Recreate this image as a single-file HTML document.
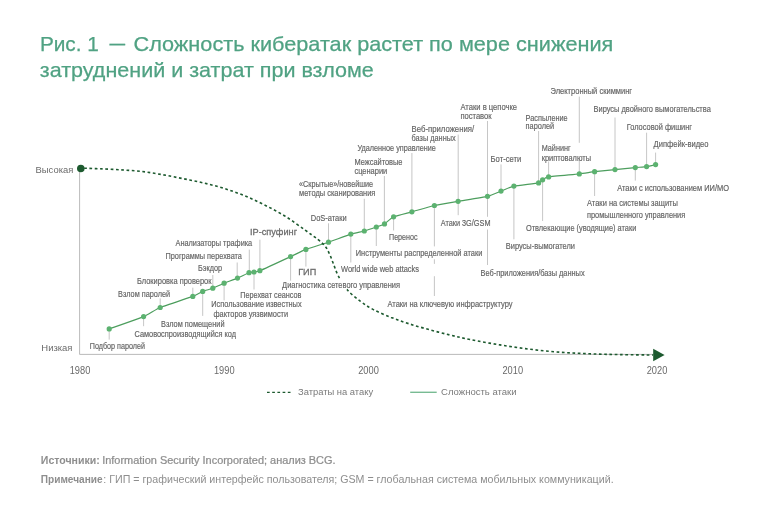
<!DOCTYPE html>
<html lang="ru"><head><meta charset="utf-8"><title>Рис. 1</title>
<style>
html,body{margin:0;padding:0;background:#fff;}
body{width:768px;height:514px;overflow:hidden;}
svg{display:block;}
text{font-family:"Liberation Sans","DejaVu Sans",sans-serif;}
.t{fill:#50a283;font-size:21px;stroke:#50a283;stroke-width:0.25px;}
.l{fill:#626262;font-size:9.6px;stroke:#666;stroke-width:0.18px;}
.a{fill:#6a6a6a;font-size:9.9px;}
.g{fill:#7a7a7a;font-size:9.4px;}
.n{fill:#8e8e8e;font-size:10px;}
.m{fill:#6c6c6c;font-size:9.9px;stroke:#6c6c6c;stroke-width:0.3px;}
</style></head><body>
<svg width="768" height="514" viewBox="0 0 768 514">

<text class="t" x="39.9" y="51.2" textLength="59" lengthAdjust="spacingAndGlyphs">Рис. 1</text>
<text class="t" x="109.5" y="50.2" textLength="15.6" lengthAdjust="spacingAndGlyphs">—</text>
<text class="t" x="133.5" y="51.2" textLength="479.8" lengthAdjust="spacingAndGlyphs">Сложность кибератак растет по мере снижения</text>
<text class="t" x="39.8" y="77" textLength="334" lengthAdjust="spacingAndGlyphs">затруднений и затрат при взломе</text>
<path d="M79.6 168.5V354.4H654" fill="none" stroke="#a8a8a8" stroke-width="0.8"/>
<text class="a" x="35.6" y="172.6" textLength="37.7" lengthAdjust="spacingAndGlyphs">Высокая</text>
<text class="a" x="41.3" y="351.3" textLength="31.2" lengthAdjust="spacingAndGlyphs">Низкая</text>
<text class="a" x="69.7" y="373.6" style="font-size:10.1px" textLength="20.6" lengthAdjust="spacingAndGlyphs">1980</text>
<text class="a" x="213.95" y="373.6" style="font-size:10.1px" textLength="20.6" lengthAdjust="spacingAndGlyphs">1990</text>
<text class="a" x="358.2" y="373.6" style="font-size:10.1px" textLength="20.6" lengthAdjust="spacingAndGlyphs">2000</text>
<text class="a" x="502.45" y="373.6" style="font-size:10.1px" textLength="20.6" lengthAdjust="spacingAndGlyphs">2010</text>
<text class="a" x="646.7" y="373.6" style="font-size:10.1px" textLength="20.6" lengthAdjust="spacingAndGlyphs">2020</text>
<line x1="109.2" y1="329" x2="109.2" y2="339.6" stroke="#b8b8b8" stroke-width="0.8"/>
<line x1="143.6" y1="317" x2="143.6" y2="326.2" stroke="#b8b8b8" stroke-width="0.8"/>
<line x1="160.2" y1="298.4" x2="160.2" y2="307.5" stroke="#b8b8b8" stroke-width="0.8"/>
<line x1="192.8" y1="287.7" x2="192.8" y2="296.3" stroke="#b8b8b8" stroke-width="0.8"/>
<line x1="202.7" y1="291.3" x2="202.7" y2="315.9" stroke="#b8b8b8" stroke-width="0.8"/>
<line x1="212.8" y1="275" x2="212.8" y2="288.1" stroke="#b8b8b8" stroke-width="0.8"/>
<line x1="224.1" y1="283.2" x2="224.1" y2="300.4" stroke="#b8b8b8" stroke-width="0.8"/>
<line x1="237.2" y1="262.5" x2="237.2" y2="278.1" stroke="#b8b8b8" stroke-width="0.8"/>
<line x1="249.3" y1="249.6" x2="249.3" y2="272.7" stroke="#b8b8b8" stroke-width="0.8"/>
<line x1="254" y1="272" x2="254" y2="289.5" stroke="#b8b8b8" stroke-width="0.8"/>
<line x1="259.9" y1="239.7" x2="259.9" y2="270.7" stroke="#b8b8b8" stroke-width="0.8"/>
<line x1="290.6" y1="256.6" x2="290.6" y2="280.7" stroke="#b8b8b8" stroke-width="0.8"/>
<line x1="305.9" y1="249.4" x2="305.9" y2="266.6" stroke="#b8b8b8" stroke-width="0.8"/>
<line x1="328.5" y1="223.3" x2="328.5" y2="242.2" stroke="#b8b8b8" stroke-width="0.8"/>
<line x1="350.8" y1="234.1" x2="350.8" y2="262.5" stroke="#b8b8b8" stroke-width="0.8"/>
<line x1="364.3" y1="198.8" x2="364.3" y2="231" stroke="#b8b8b8" stroke-width="0.8"/>
<line x1="376.3" y1="227" x2="376.3" y2="246" stroke="#b8b8b8" stroke-width="0.8"/>
<line x1="384.4" y1="176" x2="384.4" y2="223.9" stroke="#b8b8b8" stroke-width="0.8"/>
<line x1="393.6" y1="216.8" x2="393.6" y2="230.5" stroke="#b8b8b8" stroke-width="0.8"/>
<line x1="411.9" y1="153" x2="411.9" y2="211.8" stroke="#b8b8b8" stroke-width="0.8"/>
<line x1="434.4" y1="205.5" x2="434.4" y2="246.4" stroke="#b8b8b8" stroke-width="0.8"/>
<line x1="434.4" y1="259.3" x2="434.4" y2="263.9" stroke="#b8b8b8" stroke-width="0.8"/>
<line x1="434.4" y1="276.2" x2="434.4" y2="296" stroke="#b8b8b8" stroke-width="0.8"/>
<line x1="458.2" y1="134.6" x2="458.2" y2="201.3" stroke="#b8b8b8" stroke-width="0.8"/>
<line x1="458.2" y1="201.3" x2="458.2" y2="215.2" stroke="#b8b8b8" stroke-width="0.8"/>
<line x1="487.5" y1="121" x2="487.5" y2="196.3" stroke="#b8b8b8" stroke-width="0.8"/>
<line x1="487.5" y1="196.3" x2="487.5" y2="216.8" stroke="#b8b8b8" stroke-width="0.8"/>
<line x1="487.5" y1="229.5" x2="487.5" y2="265" stroke="#b8b8b8" stroke-width="0.8"/>
<line x1="501" y1="164.4" x2="501" y2="191.1" stroke="#b8b8b8" stroke-width="0.8"/>
<line x1="513.9" y1="186.1" x2="513.9" y2="239.3" stroke="#b8b8b8" stroke-width="0.8"/>
<line x1="538.6" y1="131" x2="538.6" y2="182.9" stroke="#b8b8b8" stroke-width="0.8"/>
<line x1="542.6" y1="179.8" x2="542.6" y2="221" stroke="#b8b8b8" stroke-width="0.8"/>
<line x1="548.6" y1="161.5" x2="548.6" y2="176.9" stroke="#b8b8b8" stroke-width="0.8"/>
<line x1="579.3" y1="96.6" x2="579.3" y2="142.8" stroke="#b8b8b8" stroke-width="0.8"/>
<line x1="579.3" y1="160.5" x2="579.3" y2="173.9" stroke="#b8b8b8" stroke-width="0.8"/>
<line x1="594.6" y1="171.7" x2="594.6" y2="196" stroke="#b8b8b8" stroke-width="0.8"/>
<line x1="615" y1="117.5" x2="615" y2="169.6" stroke="#b8b8b8" stroke-width="0.8"/>
<line x1="635.3" y1="167.6" x2="635.3" y2="180.6" stroke="#b8b8b8" stroke-width="0.8"/>
<line x1="646.6" y1="132.7" x2="646.6" y2="166.6" stroke="#b8b8b8" stroke-width="0.8"/>
<line x1="655.6" y1="152.6" x2="655.6" y2="164.6" stroke="#b8b8b8" stroke-width="0.8"/>
<text class="l" x="89.8" y="349" textLength="55.1" lengthAdjust="spacingAndGlyphs">Подбор паролей</text>
<text class="l" x="134.5" y="336.7" textLength="101.5" lengthAdjust="spacingAndGlyphs">Самовоспроизводящийся код</text>
<text class="l" x="118.1" y="296.7" textLength="52" lengthAdjust="spacingAndGlyphs">Взлом паролей</text>
<text class="l" x="137" y="283.9" textLength="74.5" lengthAdjust="spacingAndGlyphs">Блокировка проверок</text>
<text class="l" x="161" y="326.7" textLength="63.5" lengthAdjust="spacingAndGlyphs">Взлом помещений</text>
<text class="l" x="198" y="270.5" textLength="24" lengthAdjust="spacingAndGlyphs">Бэкдор</text>
<text class="l" x="211.3" y="307.4" textLength="90.3" lengthAdjust="spacingAndGlyphs">Использование известных</text>
<text class="l" x="213.5" y="316.9" textLength="74.6" lengthAdjust="spacingAndGlyphs">факторов уязвимости</text>
<text class="l" x="165.5" y="259.1" textLength="76.4" lengthAdjust="spacingAndGlyphs">Программы перехвата</text>
<text class="l" x="175.5" y="246.4" textLength="76.7" lengthAdjust="spacingAndGlyphs">Анализаторы трафика</text>
<text class="l" x="240.2" y="298.2" textLength="61.2" lengthAdjust="spacingAndGlyphs">Перехват сеансов</text>
<text class="l" x="310.8" y="221.4" textLength="35.9" lengthAdjust="spacingAndGlyphs">DoS-атаки</text>
<text class="l" x="341" y="271.8" textLength="78" lengthAdjust="spacingAndGlyphs">World wide web attacks</text>
<text class="l" x="299.1" y="187.1" textLength="74" lengthAdjust="spacingAndGlyphs">«Скрытые»/новейшие</text>
<text class="l" x="299.1" y="196.1" textLength="76.3" lengthAdjust="spacingAndGlyphs">методы сканирования</text>
<text class="l" x="355.75" y="256.4" textLength="126.6" lengthAdjust="spacingAndGlyphs">Инструменты распределенной атаки</text>
<text class="l" x="354.4" y="164.9" textLength="48.1" lengthAdjust="spacingAndGlyphs">Межсайтовые</text>
<text class="l" x="354.4" y="174.3" textLength="32.9" lengthAdjust="spacingAndGlyphs">сценарии</text>
<text class="l" x="389" y="239.7" textLength="28.5" lengthAdjust="spacingAndGlyphs">Перенос</text>
<text class="l" x="357.5" y="150.5" textLength="78.3" lengthAdjust="spacingAndGlyphs">Удаленное управление</text>
<text class="l" x="387.5" y="307.1" textLength="125" lengthAdjust="spacingAndGlyphs">Атаки на ключевую инфраструктуру</text>
<text class="l" x="411.6" y="131.9" textLength="62.5" lengthAdjust="spacingAndGlyphs">Веб-приложения/</text>
<text class="l" x="411.6" y="140.5" textLength="44" lengthAdjust="spacingAndGlyphs">базы данных</text>
<text class="l" x="440.7" y="226.1" textLength="49.8" lengthAdjust="spacingAndGlyphs">Атаки 3G/GSM</text>
<text class="l" x="460.4" y="110.4" textLength="56.7" lengthAdjust="spacingAndGlyphs">Атаки в цепочке</text>
<text class="l" x="460.4" y="119.2" textLength="31.2" lengthAdjust="spacingAndGlyphs">поставок</text>
<text class="l" x="480.6" y="276.4" textLength="104" lengthAdjust="spacingAndGlyphs">Веб-приложения/базы данных</text>
<text class="l" x="490.6" y="162" textLength="30.65" lengthAdjust="spacingAndGlyphs">Бот-сети</text>
<text class="l" x="505.8" y="248.8" textLength="69.2" lengthAdjust="spacingAndGlyphs">Вирусы-вымогатели</text>
<text class="l" x="525.6" y="120.7" textLength="42.1" lengthAdjust="spacingAndGlyphs">Распыление</text>
<text class="l" x="525.6" y="129.3" textLength="28.6" lengthAdjust="spacingAndGlyphs">паролей</text>
<text class="l" x="525.9" y="231.2" textLength="110.4" lengthAdjust="spacingAndGlyphs">Отвлекающие (уводящие) атаки</text>
<text class="l" x="541.7" y="150.5" textLength="28.9" lengthAdjust="spacingAndGlyphs">Майнинг</text>
<text class="l" x="541.7" y="161.3" textLength="49.3" lengthAdjust="spacingAndGlyphs">криптовалюты</text>
<text class="l" x="550.5" y="94.3" textLength="81.6" lengthAdjust="spacingAndGlyphs">Электронный скимминг</text>
<text class="l" x="587" y="206.1" textLength="90.9" lengthAdjust="spacingAndGlyphs">Атаки на системы защиты</text>
<text class="l" x="587" y="217.5" textLength="98.2" lengthAdjust="spacingAndGlyphs">промышленного управления</text>
<text class="l" x="593.5" y="112" textLength="117.3" lengthAdjust="spacingAndGlyphs">Вирусы двойного вымогательства</text>
<text class="l" x="617.2" y="191" textLength="111.8" lengthAdjust="spacingAndGlyphs">Атаки с использованием ИИ/МО</text>
<text class="l" x="626.7" y="129.5" textLength="65.4" lengthAdjust="spacingAndGlyphs">Голосовой фишинг</text>
<text class="l" x="653.6" y="147.1" textLength="54.9" lengthAdjust="spacingAndGlyphs">Дипфейк-видео</text>
<text class="m" x="250" y="234.9" textLength="47" lengthAdjust="spacingAndGlyphs">IP-спуфинг</text>
<text class="m" x="298.2" y="275.4" textLength="18" lengthAdjust="spacingAndGlyphs">ГИП</text>
<path d="M109.2 328.9C112.07 327.88 139.35 318.38 143.6 316.6C147.85 314.82 156.1 309.18 160.2 307.5C164.3 305.82 189.26 297.74 192.8 296.4C196.34 295.06 201.03 292.08 202.7 291.4C204.37 290.72 211.02 288.88 212.8 288.2C214.58 287.52 222.04 284.04 224.1 283.2C226.16 282.36 235.43 278.98 237.5 278.1C239.57 277.23 247.62 273.21 249 272.7C250.38 272.19 253.09 272.17 254 272C254.91 271.83 256.85 271.98 259.9 270.7C262.95 269.42 286.77 258.38 290.6 256.6C294.43 254.83 302.74 250.6 305.9 249.4C309.06 248.2 324.76 243.47 328.5 242.2C332.24 240.92 347.82 235.03 350.8 234.1C353.78 233.17 362.18 231.59 364.3 231C366.43 230.41 374.62 227.59 376.3 227C377.98 226.41 383.06 224.75 384.5 223.9C385.94 223.05 391.32 217.81 393.6 216.8C395.88 215.79 408.5 212.74 411.9 211.8C415.3 210.86 430.55 206.38 434.4 205.5C438.25 204.62 453.68 202.07 458.1 201.3C462.53 200.53 483.93 197.15 487.5 196.3C491.07 195.45 498.8 191.95 501 191.1C503.2 190.25 510.77 186.78 513.9 186.1C517.03 185.42 536.21 183.43 538.6 182.9C540.99 182.38 541.77 180.3 542.6 179.8C543.43 179.3 545.54 177.39 548.6 176.9C551.66 176.41 575.47 174.33 579.3 173.9C583.13 173.47 591.62 172.06 594.6 171.7C597.58 171.34 611.61 169.94 615 169.6C618.39 169.26 632.67 167.85 635.3 167.6C637.93 167.35 644.91 166.85 646.6 166.6C648.29 166.35 654.85 164.77 655.6 164.6" fill="none" stroke="#4d9e5e" stroke-width="1.2" stroke-linejoin="round"/>
<circle cx="109.2" cy="328.9" r="2.6" fill="#5cb270"/>
<circle cx="143.6" cy="316.6" r="2.6" fill="#5cb270"/>
<circle cx="160.2" cy="307.5" r="2.6" fill="#5cb270"/>
<circle cx="192.8" cy="296.4" r="2.6" fill="#5cb270"/>
<circle cx="202.7" cy="291.4" r="2.6" fill="#5cb270"/>
<circle cx="212.8" cy="288.2" r="2.6" fill="#5cb270"/>
<circle cx="224.1" cy="283.2" r="2.6" fill="#5cb270"/>
<circle cx="237.5" cy="278.1" r="2.6" fill="#5cb270"/>
<circle cx="249" cy="272.7" r="2.6" fill="#5cb270"/>
<circle cx="254" cy="272" r="2.6" fill="#5cb270"/>
<circle cx="259.9" cy="270.7" r="2.6" fill="#5cb270"/>
<circle cx="290.6" cy="256.6" r="2.6" fill="#5cb270"/>
<circle cx="305.9" cy="249.4" r="2.6" fill="#5cb270"/>
<circle cx="328.5" cy="242.2" r="2.6" fill="#5cb270"/>
<circle cx="350.8" cy="234.1" r="2.6" fill="#5cb270"/>
<circle cx="364.3" cy="231" r="2.6" fill="#5cb270"/>
<circle cx="376.3" cy="227" r="2.6" fill="#5cb270"/>
<circle cx="384.5" cy="223.9" r="2.6" fill="#5cb270"/>
<circle cx="393.6" cy="216.8" r="2.6" fill="#5cb270"/>
<circle cx="411.9" cy="211.8" r="2.6" fill="#5cb270"/>
<circle cx="434.4" cy="205.5" r="2.6" fill="#5cb270"/>
<circle cx="458.1" cy="201.3" r="2.6" fill="#5cb270"/>
<circle cx="487.5" cy="196.3" r="2.6" fill="#5cb270"/>
<circle cx="501" cy="191.1" r="2.6" fill="#5cb270"/>
<circle cx="513.9" cy="186.1" r="2.6" fill="#5cb270"/>
<circle cx="538.6" cy="182.9" r="2.6" fill="#5cb270"/>
<circle cx="542.6" cy="179.8" r="2.6" fill="#5cb270"/>
<circle cx="548.6" cy="176.9" r="2.6" fill="#5cb270"/>
<circle cx="579.3" cy="173.9" r="2.6" fill="#5cb270"/>
<circle cx="594.6" cy="171.7" r="2.6" fill="#5cb270"/>
<circle cx="615" cy="169.6" r="2.6" fill="#5cb270"/>
<circle cx="635.3" cy="167.6" r="2.6" fill="#5cb270"/>
<circle cx="646.6" cy="166.6" r="2.6" fill="#5cb270"/>
<circle cx="655.6" cy="164.6" r="2.6" fill="#5cb270"/>
<path d="M84.2 168.2C86.83 168.3 94.03 168.53 100 168.8C105.97 169.07 113.33 169.39 120 169.8C126.67 170.21 133.2 170.48 140 171.25C146.8 172.02 153.85 173.21 160.8 174.4C167.75 175.59 174.75 177.02 181.7 178.4C188.65 179.78 195.57 181.07 202.5 182.7C209.43 184.33 216.35 186.05 223.3 188.2C230.25 190.35 237.25 192.77 244.2 195.6C251.15 198.43 258.07 201.7 265 205.2C271.93 208.7 279.1 212.43 285.8 216.6C292.5 220.77 299.87 226.4 305.2 230.2C310.53 234 314.5 236.77 317.8 239.4C321.1 242.03 323.08 243.65 325 246C326.92 248.35 327.95 250.67 329.3 253.5C330.65 256.33 331.63 259.33 333.1 263C334.57 266.67 335.82 271.12 338.1 275.5C340.38 279.88 343.18 285.08 346.8 289.3C350.42 293.52 355.37 297.42 359.8 300.8C364.23 304.18 368.18 306.83 373.4 309.6C378.62 312.37 385.2 315.05 391.1 317.4C397 319.75 402.48 321.67 408.8 323.7C415.12 325.73 422.13 327.72 429 329.6C435.87 331.48 443.17 333.35 450 335C456.83 336.65 461.68 337.85 470 339.5C478.32 341.15 489.93 343.28 499.9 344.9C509.87 346.52 519.82 347.98 529.8 349.2C539.78 350.42 549.82 351.43 559.8 352.2C569.78 352.97 579.72 353.4 589.7 353.8C599.68 354.2 609.15 354.4 619.7 354.6C630.25 354.8 647.45 354.93 653 355" fill="none" stroke="#1d5a2f" stroke-width="1.6" stroke-dasharray="2.7 2.6"/>
<rect x="333" y="279.6" width="14" height="10" fill="#fff"/>
<text class="l" x="282.1" y="288.1" textLength="117.9" lengthAdjust="spacingAndGlyphs">Диагностика сетевого управления</text>
<circle cx="80.8" cy="168.5" r="3.8" fill="#1d5a2f"/>
<path d="M653.2 348.7L664.6 355L653.2 361.2Z" fill="#1d5a2f"/>
<line x1="267" y1="392.3" x2="291" y2="392.3" stroke="#1d5a2f" stroke-width="1.3" stroke-dasharray="2.7 2.5"/>
<text class="g" x="298" y="394.5">Затраты на атаку</text>
<line x1="410.2" y1="392.3" x2="436.7" y2="392.3" stroke="#78bb93" stroke-width="1.4"/>
<text class="g" x="441" y="394.5" textLength="75.6" lengthAdjust="spacingAndGlyphs">Сложность атаки</text>
<text class="n" x="40.8" y="464.4" font-weight="bold" textLength="59" lengthAdjust="spacingAndGlyphs">Источники:</text>
<text class="n" x="102.2" y="464.4" textLength="233.4" lengthAdjust="spacingAndGlyphs" style="stroke:#8e8e8e;stroke-width:0.22px">Information Security Incorporated; анализ BCG.</text>
<text class="n" x="40.8" y="482.6" font-weight="bold" textLength="61.8" lengthAdjust="spacingAndGlyphs">Примечание</text>
<text class="n" x="103.3" y="482.6" textLength="510.3" lengthAdjust="spacingAndGlyphs">: ГИП = графический интерфейс пользователя; GSM = глобальная система мобильных коммуникаций.</text>
</svg>
</body></html>
